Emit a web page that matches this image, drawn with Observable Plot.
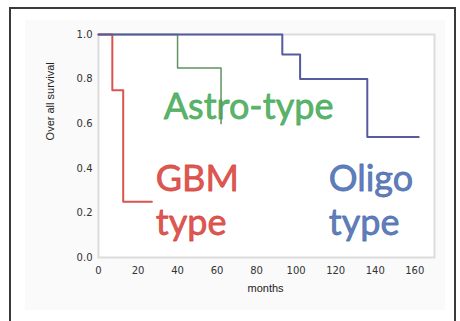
<!DOCTYPE html>
<html>
<head>
<meta charset="utf-8">
<script src="https://cdn.jsdelivr.net/npm/d3@7"></script>
<script src="https://cdn.jsdelivr.net/npm/@observablehq/plot@0.6"></script>
<style>
  html, body { margin: 0; padding: 0; background: #fff; overflow: hidden; }
  #wrap { position: relative; width: 460px; height: 321px; }
  #border { position: absolute; left: 9px; top: 7px; width: 447px; height: 330px; border: 2px solid #3a3a3a; box-sizing: border-box; pointer-events: none; }
  #panel { position: absolute; left: 25px; top: 20px; width: 420px; height: 290px; background: #fafafa; }
  #chart { position: absolute; left: 0; top: 0; }
</style>
</head>
<body>
<div id="wrap"><div id="panel"></div><div id="chart"></div><div id="border"></div></div>
<script>
const xTicks = [0, 20, 40, 60, 80, 100, 120, 140, 160];
const yTicks = [0, 0.2, 0.4, 0.6, 0.8, 1.0];

const gbmMonths = [0, 7, 12.5, 27];
const gbmSurv = [1, 0.75, 0.25, 0.25];
const astroMonths = [0, 40, 62];
const astroSurv = [1, 0.85, 0.6];
const oligoMonths = [0, 93, 102, 136, 162];
const oligoSurv = [1, 0.91, 0.80, 0.54, 0.54];

const labelText = ["Astro-type", "GBM", "type", "Oligo", "type"];
const labelMonth = [33, 29, 29, 116.5, 116.5];
const labelSurv = [0.623, 0.296, 0.103, 0.296, 0.103];
const labelGroup = ["astro", "gbm", "gbm", "oligo", "oligo"];

const colors = { gbm: "#d8413a", astro: "#45a957", oligo: "#4a6cb0" };
const lineColors = { gbm: "#d9544f", astro: "#5f9360", oligo: "#565a9e" };

const toRows = (m, s) => m.map((v, i) => ({ month: v, surv: s[i] }));
const gbm = toRows(gbmMonths, gbmSurv);
const astro = toRows(astroMonths, astroSurv);
const oligo = toRows(oligoMonths, oligoSurv);
const labels = labelText.map((t, i) => ({ t, month: labelMonth[i], surv: labelSurv[i], g: labelGroup[i] }));

const plot = Plot.plot({
  width: 460,
  height: 321,
  marginLeft: 98,
  marginRight: 26,
  marginTop: 34,
  marginBottom: 64,
  style: { background: "transparent", fontFamily: "DejaVu Sans, sans-serif", fontSize: "10px", color: "#333" },
  x: { domain: [0, 170], ticks: xTicks, label: null },
  y: { domain: [0, 1], ticks: yTicks, label: null, tickFormat: d3.format(".1f") },
  marks: [
    Plot.frame({ fill: "#fff", stroke: "#dcdcdc", strokeWidth: 2 }),
    Plot.axisX({ ticks: xTicks, tickSize: 0, tickPadding: 9, label: null }),
    Plot.axisY({ ticks: yTicks, tickSize: 0, tickPadding: 6, label: null, tickFormat: d3.format(".1f") }),
    Plot.text(labels, { x: "month", y: "surv", text: "t", fill: d => colors[d.g], stroke: d => colors[d.g], strokeWidth: 0.8, textAnchor: "start", lineAnchor: "bottom", fontSize: 36, letterSpacing: "0.5px", fontFamily: "Lato, sans-serif", fillOpacity: 0.88, strokeOpacity: 0.88 }),
    Plot.line(astro, { x: "month", y: "surv", curve: "step-after", stroke: lineColors.astro, strokeWidth: 1.5 }),
    Plot.line(gbm, { x: "month", y: "surv", curve: "step-after", stroke: lineColors.gbm, strokeWidth: 2 }),
    Plot.line(oligo, { x: "month", y: "surv", curve: "step-after", stroke: lineColors.oligo, strokeWidth: 2 }),
    Plot.text(["months"], { x: 84.5, frameAnchor: "bottom", dy: 34, fontFamily: "Liberation Sans, sans-serif", fontSize: 11, fill: "#222" }),
    Plot.text(["Over all survival"], { frameAnchor: "left", y: 0.525, dx: -48, rotate: -90, fontFamily: "Liberation Sans, sans-serif", fontSize: 11, fill: "#222" })
  ]
});
document.getElementById("chart").appendChild(plot);
</script>
</body>
</html>
